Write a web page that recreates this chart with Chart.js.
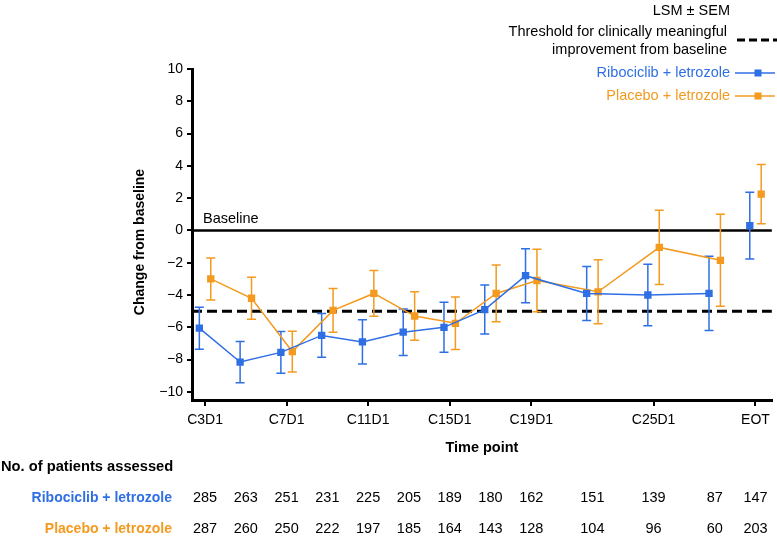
<!DOCTYPE html>
<html>
<head>
<meta charset="utf-8">
<script src="https://cdn.jsdelivr.net/npm/chart.js@4.4.1/dist/chart.umd.min.js"></script>
<style>
  html, body { margin: 0; padding: 0; background: #fff; }
</style>
</head>
<body>
<canvas id="chart" width="777" height="539"></canvas>
<script>
// time points in cycle units (EOT placed at 30)
const cycles = [3, 5, 7, 9, 11, 13, 15, 17, 19, 22, 25, 28, 30];
const tickCycles = [3, 7, 11, 15, 19, 25, 30];
const tickLabels = ['C3D1', 'C7D1', 'C11D1', 'C15D1', 'C19D1', 'C25D1', 'EOT'];
const yTicks = [-10, -8, -6, -4, -2, 0, 2, 4, 6, 8, 10];

const riboLsm = [-6.05, -8.15, -7.55, -6.5, -6.9, -6.3, -6.0, -4.9, -2.8, -3.9, -4.0, -3.9, 0.3];
const riboSem = [1.3, 1.28, 1.29, 1.35, 1.37, 1.44, 1.55, 1.52, 1.67, 1.67, 1.9, 2.3, 2.07];
const placLsm = [-3.0, -4.2, -7.5, -4.95, -3.9, -5.3, -5.75, -3.9, -3.1, -3.8, -1.05, -1.85, 2.25];
const placSem = [1.3, 1.3, 1.26, 1.35, 1.42, 1.5, 1.63, 1.76, 1.93, 1.98, 2.3, 2.85, 1.84];

const riboN = [285, 263, 251, 231, 225, 205, 189, 180, 162, 151, 139, 87, 147];
const placN = [287, 260, 250, 222, 197, 185, 164, 143, 128, 104, 96, 60, 203];

const thresholdValue = -5;
const baselineValue = 0;

const BLUE = '#2f6fe4';
const ORANGE = '#f39a1f';
const FONT = '"Liberation Sans", Arial, sans-serif';
const dodge = 0.28;
const last = cycles.length - 1;

function series(lsm, shift) {
  return cycles.map((c, i) => ({ x: c + shift, y: lsm[i] }));
}

// reference lines + error bars, under the markers
const underlay = {
  id: 'underlay',
  beforeDatasetsDraw(chart) {
    const { ctx, chartArea: a, scales: { x, y } } = chart;
    ctx.save();
    ctx.strokeStyle = '#000';
    ctx.lineWidth = 2.5;
    const y0 = y.getPixelForValue(baselineValue);
    ctx.beginPath(); ctx.moveTo(a.left, y0); ctx.lineTo(a.right, y0); ctx.stroke();
    const yt = y.getPixelForValue(thresholdValue);
    ctx.lineWidth = 3;
    ctx.setLineDash([10, 5]);
    ctx.beginPath(); ctx.moveTo(a.left, yt); ctx.lineTo(a.right, yt); ctx.stroke();
    ctx.setLineDash([]);

    chart.data.datasets.forEach((ds) => {
      ctx.strokeStyle = ds.borderColor;
      ctx.lineWidth = 1.5;
      ds.data.forEach((p, i) => {
        const px = x.getPixelForValue(p.x);
        const top = y.getPixelForValue(p.y + ds.sem[i]);
        const bot = y.getPixelForValue(p.y - ds.sem[i]);
        ctx.beginPath();
        ctx.moveTo(px, top); ctx.lineTo(px, bot);
        ctx.moveTo(px - 4.5, top); ctx.lineTo(px + 4.5, top);
        ctx.moveTo(px - 4.5, bot); ctx.lineTo(px + 4.5, bot);
        ctx.stroke();
      });
    });
    ctx.restore();
  }
};

function text(ctx, str, x, y, align, font, color) {
  ctx.font = font;
  ctx.fillStyle = color || '#000';
  ctx.textAlign = align;
  ctx.textBaseline = 'middle';
  ctx.fillText(str, x, y);
}

function legendSample(ctx, y, color) {
  ctx.strokeStyle = color;
  ctx.lineWidth = 1.5;
  ctx.beginPath(); ctx.moveTo(735, y); ctx.lineTo(775, y); ctx.stroke();
  ctx.fillStyle = color;
  ctx.fillRect(754.5, y - 3.5, 7, 7);
}

const overlay = {
  id: 'overlay',
  afterDraw(chart) {
    const { ctx, chartArea: a, scales: { x } } = chart;
    ctx.save();
    // legend block
    text(ctx, 'LSM \u00b1 SEM', 730, 11, 'right', '14.5px ' + FONT);
    text(ctx, 'Threshold for clinically meaningful', 727, 32, 'right', '14.5px ' + FONT);
    text(ctx, 'improvement from baseline', 727, 50, 'right', '14.5px ' + FONT);
    ctx.strokeStyle = '#000';
    ctx.lineWidth = 3;
    ctx.setLineDash([8, 4]);
    ctx.beginPath(); ctx.moveTo(737, 40); ctx.lineTo(777, 40); ctx.stroke();
    ctx.setLineDash([]);
    text(ctx, 'Ribociclib + letrozole', 730, 73, 'right', '14.5px ' + FONT, BLUE);
    legendSample(ctx, 73, BLUE);
    text(ctx, 'Placebo + letrozole', 730, 96, 'right', '14.5px ' + FONT, ORANGE);
    legendSample(ctx, 96, ORANGE);

    text(ctx, 'Baseline', 203, 219, 'left', '14.5px ' + FONT);

    // axis titles
    ctx.save();
    ctx.translate(140, 242);
    ctx.rotate(-Math.PI / 2);
    text(ctx, 'Change from baseline', 0, 0, 'center', 'bold 14px ' + FONT);
    ctx.restore();
    text(ctx, 'Time point', (a.left + a.right) / 2, 448, 'center', 'bold 14.5px ' + FONT);

    // patients table
    text(ctx, 'No. of patients assessed', 1, 467, 'left', 'bold 14.7px ' + FONT);
    text(ctx, 'Ribociclib + letrozole', 172, 498, 'right', 'bold 14px ' + FONT, BLUE);
    text(ctx, 'Placebo + letrozole', 172, 529, 'right', 'bold 14px ' + FONT, ORANGE);
    cycles.forEach((c, i) => {
      const px = x.getPixelForValue(c);
      text(ctx, String(riboN[i]), px, 498, 'center', '14.5px ' + FONT);
      text(ctx, String(placN[i]), px, 529, 'center', '14.5px ' + FONT);
    });
    ctx.restore();
  }
};

const noLastSegment = (color) => (ctx) => ctx.p1DataIndex === last ? 'rgba(0,0,0,0)' : color;

new Chart(document.getElementById('chart'), {
  type: 'line',
  data: {
    datasets: [
      {
        label: 'Ribociclib + letrozole',
        data: series(riboLsm, -dodge),
        sem: riboSem,
        borderColor: BLUE,
        backgroundColor: BLUE,
        borderWidth: 1.5,
        pointStyle: 'rect',
        pointRadius: 5.2,
        pointBorderWidth: 0,
        segment: { borderColor: noLastSegment(BLUE) },
      },
      {
        label: 'Placebo + letrozole',
        data: series(placLsm, dodge),
        sem: placSem,
        borderColor: ORANGE,
        backgroundColor: ORANGE,
        borderWidth: 1.5,
        pointStyle: 'rect',
        pointRadius: 5.2,
        pointBorderWidth: 0,
        segment: { borderColor: noLastSegment(ORANGE) },
      },
    ],
  },
  options: {
    responsive: false,
    animation: false,
    devicePixelRatio: 1,
    layout: { padding: { left: 0, top: 69, right: 4, bottom: 0 } },
    plugins: { legend: { display: false }, tooltip: { enabled: false } },
    scales: {
      x: {
        type: 'linear',
        min: 2.36,
        max: 30.8,
        afterBuildTicks: (s) => { s.ticks = tickCycles.map((v) => ({ value: v })); },
        afterFit: (s) => { s.height = 139; },
        ticks: {
          callback: (v, i) => tickLabels[i],
          font: { family: FONT, size: 14 },
          color: '#000',
          padding: 6,
          maxRotation: 0,
          autoSkip: false,
        },
        grid: { drawOnChartArea: false, drawTicks: true, tickLength: 6, color: '#000', lineWidth: 2 },
        border: { display: true, color: '#000', width: 3 },
      },
      y: {
        min: -10.5,
        max: 10,
        afterBuildTicks: (s) => { s.ticks = yTicks.map((v) => ({ value: v })); },
        afterFit: (s) => { s.width = 192; },
        ticks: {
          callback: (v) => (v < 0 ? '\u2212' + Math.abs(v) : String(v)),
          font: { family: FONT, size: 14 },
          color: '#000',
          padding: 4,
        },
        grid: { drawOnChartArea: false, drawTicks: true, tickLength: 5, color: '#000', lineWidth: 2 },
        border: { display: true, color: '#000', width: 3 },
      },
    },
  },
  plugins: [underlay, overlay],
});
</script>
</body>
</html>
